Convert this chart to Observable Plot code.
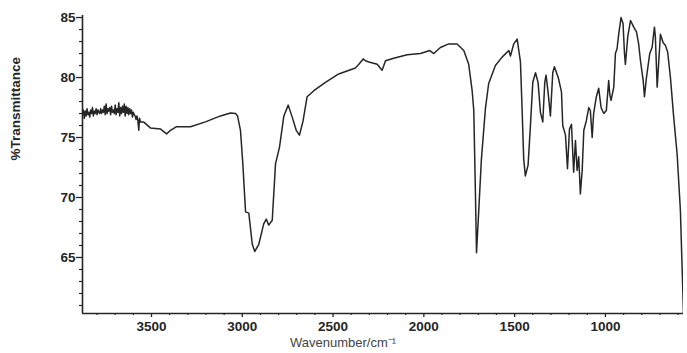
<!DOCTYPE html>
<html>
<head>
<meta charset="utf-8">
<script src="https://cdn.jsdelivr.net/npm/d3@7"></script>
<script src="https://cdn.jsdelivr.net/npm/@observablehq/plot@0.6"></script>
<style>
  html, body { margin: 0; padding: 0; background: #fff; overflow: hidden; }
  #chart svg { display: block; }
</style>
</head>
<body>
<div id="chart"></div>
<script>
// Wavenumber (cm^-1) and %Transmittance
const wavenumber = [
  3880,3875,3870,3865,3860,3855,3850,3845,3840,3835,3830,3825,3820,3815,3810,3805,3800,3795,3790,3785,
  3780,3775,3770,3765,3760,3755,3750,3745,3740,3735,3730,3725,3720,3715,3710,3705,3700,3695,3690,3685,
  3680,3675,3670,3665,3660,3655,3650,3645,3640,3635,3630,3625,3620,3615,3610,3605,3600,3595,3590,3585,
  3580,3575,3570,3566,3560,3544,3506,3450,3417,3395,3362,3285,3203,3120,3065,3037,3026,3010,2997,2982,
  2964,2945,2931,2909,2882,2868,2854,2835,2817,2795,2771,2747,2725,2703,2685,2665,2643,2606,2542,2469,
  2377,2358,2334,2322,2303,2257,2230,2211,2166,2092,2019,1967,1945,1909,1863,1817,1780,1753,1734,1725,
  1716,1710,1698,1683,1661,1643,1606,1569,1532,1523,1505,1486,1468,1459,1450,1441,1426,1413,1400,1385,
  1371,1358,1345,1334,1327,1316,1303,1290,1281,1260,1242,1235,1220,1209,1198,1187,1175,1165,1156,1147,
  1138,1128,1119,1105,1092,1083,1073,1065,1050,1037,1024,1009,995,982,976,969,954,945,936,927,
  914,903,895,890,877,862,844,829,817,807,792,785,774,756,743,730,725,715,706,697,
  682,670,657,642,624,605,587,570
];
const transmittance = [
  76.9,77.3,76.6,77.2,76.8,77.4,76.9,77.1,76.7,77.3,77.0,77.5,76.8,77.2,77.0,77.4,76.9,77.3,77.1,77.0,
  77.4,77.0,77.3,77.1,77.6,76.9,77.8,77.0,77.4,77.2,77.5,76.9,77.6,77.1,77.3,77.0,77.7,76.9,77.4,77.1,
  77.9,76.8,77.5,77.0,77.6,77.1,77.8,76.8,77.6,77.0,77.5,76.9,77.4,77.0,77.3,76.7,77.1,76.9,76.8,76.5,
  76.8,76.4,75.6,76.6,76.3,76.3,75.8,75.7,75.3,75.6,75.9,75.9,76.3,76.8,77.05,77.0,76.8,75.6,72.8,68.8,
  68.7,66.1,65.5,66.1,67.8,68.2,67.7,68.1,72.8,74.2,76.8,77.7,76.7,75.6,75.2,76.4,78.4,78.9,79.6,80.3,
  80.8,81.1,81.55,81.4,81.3,81.1,80.6,81.4,81.6,81.9,82.0,82.25,82.0,82.5,82.8,82.8,82.25,81.1,78.9,77.25,
  70.4,65.4,68.8,73.2,77.4,79.5,81.0,81.7,82.25,81.8,82.8,83.2,81.3,77.4,73.2,71.8,72.7,76.0,79.6,80.4,
  79.6,77.1,76.3,79.6,80.2,78.8,76.8,80.4,80.9,80.0,78.8,76.0,75.2,72.4,75.7,76.1,72.1,74.75,72.25,73.4,
  70.3,72.25,75.6,76.4,77.5,77.25,75.0,77.0,78.4,79.1,77.5,77.0,77.25,79.75,78.6,78.1,79.2,82.0,82.4,83.6,
  85.0,84.5,82.0,81.1,83.4,84.75,84.2,83.8,82.8,81.4,79.75,78.4,80.0,82.0,82.5,84.2,83.4,79.2,81.4,83.6,
  82.9,82.7,82.1,80.0,76.7,73.6,68.9,60.3
];
const yMajorTicks = [65, 70, 75, 80, 85];
const yMinorTicks = [61,62,63,64,66,67,68,69,71,72,73,74,76,77,78,79,81,82,83,84];
const xMajorTicks = [3500, 3000, 2500, 2000, 1500, 1000];
const xMinorTicks = [3800,3700,3600,3400,3300,3200,3100,2900,2800,2700,2600,2400,2300,2200,2100,1900,1800,1700,1600,1400,1300,1200,1100,900,800,700,600];
const yLabel = "%Transmittance";
const xLabel = "Wavenumber/cm\u207B\u00B9";

const spectrum = wavenumber.map((w, i) => ({w, t: transmittance[i]}));
const xDomain = [3880, 570];
const yDomain = [60.33, 85.17];
const ink = "#262626";
const font = "Liberation Sans, Arial, sans-serif";
const plain = d => String(d);

const chart = Plot.plot({
  width: 687,
  height: 353,
  marginLeft: 82,
  marginRight: 4,
  marginTop: 15,
  marginBottom: 40,
  style: {background: "#fff", fontFamily: font},
  x: {domain: xDomain, axis: null},
  y: {domain: yDomain, axis: null},
  marks: [
    Plot.axisY(yMinorTicks, {tickSize: 3, text: null, stroke: ink, strokeWidth: 1.2, label: null}),
    Plot.axisY(yMajorTicks, {tickSize: 6, tickPadding: 1, tickFormat: plain, stroke: ink, strokeWidth: 1.3, fill: ink,
      fontSize: 13.5, fontWeight: "bold", fontFamily: font, label: null}),
    Plot.axisX(xMinorTicks, {tickSize: 2, text: null, stroke: ink, strokeWidth: 1.2, label: null}),
    Plot.axisX(xMajorTicks, {tickSize: 4, tickPadding: 4, tickFormat: plain, stroke: ink, strokeWidth: 1.3, fill: ink,
      fontSize: 13.5, fontWeight: "bold", fontFamily: font, label: null}),
    Plot.ruleX([xDomain[0]], {stroke: ink, strokeWidth: 1.6}),
    Plot.ruleY([yDomain[0]], {stroke: ink, strokeWidth: 1.6}),
    Plot.line(spectrum, {x: "w", y: "t", stroke: ink, strokeWidth: 1.5, clip: true}),
    Plot.text([yLabel], {frameAnchor: "left", dx: -67, dy: -4, rotate: -90, fontSize: 13.5,
      fontWeight: "bold", fontFamily: font, fill: ink}),
    Plot.text([xLabel], {frameAnchor: "bottom", dx: -40, dy: 33, fontSize: 13,
      fontFamily: font, fill: "#444"})
  ]
});
document.getElementById("chart").appendChild(chart);
</script>
</body>
</html>
